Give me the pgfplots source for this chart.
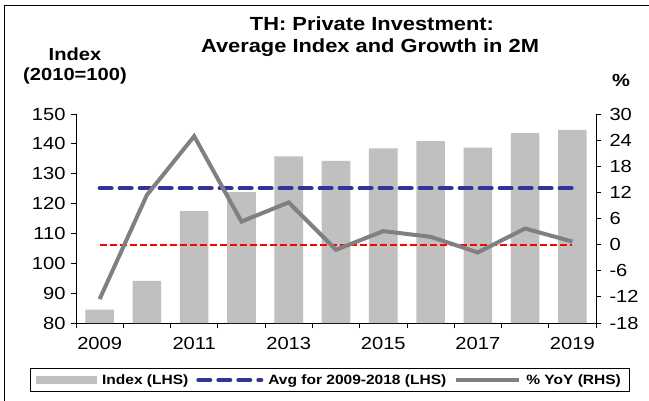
\documentclass[border=0pt]{standalone}
\usepackage{pgfplots}
\pgfplotsset{compat=1.18}
\usepackage{fontspec}
\setmainfont{Liberation Sans}[FakeStretch=1.15]
\definecolor{barg}{RGB}{192,192,192}
\definecolor{avgb}{RGB}{51,51,153}
\definecolor{yoyg}{RGB}{128,128,128}
\pgfplotsset{
 linelegend/.style={legend image code/.code={\draw[##1] (0bp,0bp) -- (63bp,0bp);}},
 barlegend/.style={legend image code/.code={\fill[barg] (0bp,-3.8bp) rectangle (61bp,3.8bp);}},
 base/.style={scale only axis, width=520bp, height=209bp, at={(76bp,-323bp)}, anchor=south west,
 xmin=-0.5, xmax=10.5,
 /pgf/number format/assume math mode=true,
 tick label style={font=\fontsize{17.5bp}{19bp}\selectfont},
 tick align=outside, major tick length=5bp,
 tick style={black, line width=0.8bp},
 axis line style={black, line width=0.8bp}}
}
\begin{document}
\begin{tikzpicture}
\path[use as bounding box] (0,0) rectangle (649bp,-401bp);
\draw[line width=1bp] (4.5bp,-401bp) -- (4.5bp,-5.5bp) -- (649bp,-5.5bp);
\begin{axis}[base,
 ymin=80, ymax=150, ytick={80,90,...,150},
 yticklabel style={xshift=-2bp},
 axis x line*=bottom, axis y line*=left,
 xtick={-0.5,0.5,...,10.5}, xticklabels={},
 extra x ticks={0,2,4,6,8,10},
 extra x tick labels={2009,2011,2013,2015,2017,2019},
 extra x tick style={tick style={draw=none}, xticklabel style={yshift=-6bp}},
 legend style={at={(0.4875,-0.273)}, anchor=center, draw=black, line width=0.8bp,
   inner xsep=6bp, inner ysep=4bp,
   font=\bfseries\fontsize{13.5bp}{16bp}\selectfont,
   /tikz/every odd column/.append style={column sep=3bp},
   /tikz/every even column/.append style={column sep=6bp}},
 legend columns=3, legend cell align=left]
\addplot[ybar, bar width=28.6bp, bar shift=0pt, fill=barg, draw=none, barlegend]
 coordinates {(0,84.5) (1,94.1) (2,117.5) (3,123.8) (4,135.8) (5,134.3) (6,138.5) (7,140.9) (8,138.7) (9,143.6) (10,144.7)};
\addlegendentry{Index (LHS)}
\addplot[avgb, line width=4bp, dash pattern=on 12bp off 8bp, line cap=round, linelegend]
 coordinates {(0,125.1) (10,125.1)};
\addlegendentry{Avg for 2009-2018 (LHS)}
\addlegendimage{yoyg, line width=4bp, linelegend}
\addlegendentry{\% YoY (RHS)}
\end{axis}
\begin{axis}[base,
 ymin=-18, ymax=30, ytick={-18,-12,...,30},
 yticklabel style={xshift=5bp},
 axis y line*=right, axis x line=none, xtick=\empty]
\addplot[red, line width=2.2bp, dash pattern=on 7bp off 3bp] coordinates {(0,0) (10,0)};
\addplot[yoyg, line width=4bp] coordinates {(0,-12.5) (1,11.4) (2,24.9) (3,5.3) (4,9.7) (5,-1.2) (6,3.1) (7,1.8) (8,-1.8) (9,3.7) (10,0.7)};
\end{axis}
\node[anchor=base, font=\bfseries\fontsize{19bp}{21bp}\selectfont] at (372bp,-30bp) {TH: Private Investment:};
\node[anchor=base, font=\bfseries\fontsize{19bp}{21bp}\selectfont] at (370bp,-52bp) {Average Index and Growth in 2M};
\node[anchor=base, font=\bfseries\fontsize{17.5bp}{19bp}\selectfont] at (75bp,-60bp) {Index};
\node[anchor=base, font=\bfseries\fontsize{17.5bp}{19bp}\selectfont] at (75bp,-80bp) {(2010=100)};
\node[anchor=base, font=\bfseries\fontsize{17.5bp}{19bp}\selectfont] at (621bp,-86bp) {\%};
\end{tikzpicture}
\end{document}
